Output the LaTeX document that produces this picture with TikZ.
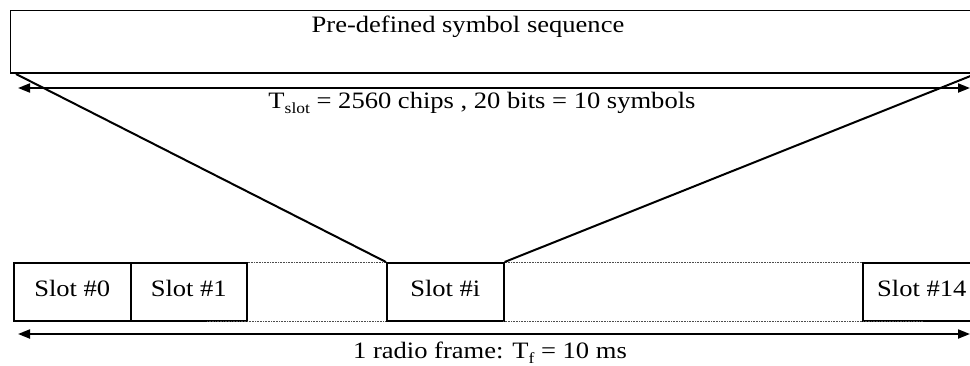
\documentclass[tikz,border=0pt]{standalone}
\usepackage{fontspec}
\setmainfont{Liberation Serif}[FakeStretch=1.13]
\usetikzlibrary{arrows.meta}
\newcommand{\mysub}[1]{\raisebox{-0.22em}{\fontsize{15.5}{16}\selectfont #1}}
\begin{document}
\begin{tikzpicture}[x=1pt,y=-1pt,
  seqbox/.style={draw,line width=1.6pt,inner sep=0pt,anchor=north west},
  slotbox/.style={draw,line width=1.6pt,minimum height=58pt,inner sep=0pt,anchor=north west,
    text height=15pt,text depth=5pt,font=\fontsize{23.5}{24}\selectfont},
  lbl/.style={font=\fontsize{23.5}{24}\selectfont,inner sep=0pt,anchor=base},
  dotline/.style={gray!60!black,line width=0.7pt,dash pattern=on 0.8pt off 0.8pt},
  span/.style={line width=2pt,{Triangle[length=12pt,width=9pt]}-{Triangle[length=12pt,width=9pt]}},
  slant/.style={line width=2pt}]
\clip (0,0) rectangle (970,365);
\fill[white] (0,0) rectangle (970,365);
% top sequence box
\node[seqbox,minimum width=975.5pt,minimum height=62.5pt] (seq) at (9.5,9.5) {};
\node[lbl] (seqt) at (468,32) {Pre-defined symbol sequence};
% slot span arrow
\coordinate (a1) at (18,88);
\coordinate (a2) at (970,88);
\draw[span] (a1) -- (a2);
\node[lbl] (tslot) at (482,108) {T\mysub{slot} = 2560 chips , 20 bits = 10 symbols};
% slots
\node[slotbox,minimum width=117pt] (slot0) at (13,262) {Slot \#0};
\node[slotbox,minimum width=116pt] (slot1) at (130,262) {Slot \#1};
\node[slotbox,minimum width=117pt] (sloti) at (386,262) {Slot \#i};
\node[slotbox,minimum width=118pt] (slot14) at (862,262) {Slot \#14};
% dotted continuation lines
\draw[dotline] (slot1.north east) -- (sloti.north west);
\draw[dotline] (sloti.north east) -- (slot14.north west);
\coordinate (d1) at (207,321);
\coordinate (d2) at (386,321);
\coordinate (d3) at (503,321);
\coordinate (d4) at (923,321);
\draw[dotline] (d1) -- (d2);
\draw[dotline] (d3) -- (d4);
% slanted expansion lines
\coordinate (sl) at (16,74);
\coordinate (sr) at (973,75);
\draw[slant] (sl) -- (sloti.north west);
\draw[slant] (sloti.north east) -- (sr);
% frame span arrow
\coordinate (b1) at (18,334);
\coordinate (b2) at (970,334);
\draw[span] (b1) -- (b2);
\node[lbl] (tf) at (490,358) {1 radio frame: T\mysub{f} = 10 ms};
\end{tikzpicture}
\end{document}
